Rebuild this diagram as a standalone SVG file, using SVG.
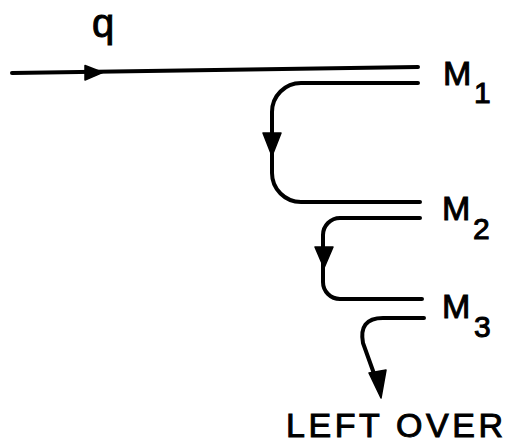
<svg xmlns="http://www.w3.org/2000/svg" width="508" height="446" viewBox="0 0 508 446">
  <style>
    .flow { fill: none; stroke: #000; stroke-width: 4; stroke-linecap: round; stroke-linejoin: round; }
    .head { fill: #000; stroke: #000; stroke-width: 1.5; stroke-linejoin: round; }
    .lbl { font-family: "Liberation Sans", Arial, sans-serif; fill: #000; stroke: #000; stroke-width: 1; }
    .m { font-size: 34px; }
    .sub { font-size: 30px; }
  </style>
  <rect width="508" height="446" fill="#fff"/>

  <!-- flow lines and their arrowheads -->
  <g id="connectors">
    <!-- incoming feed -->
    <path class="flow" d="M12,73 L418,67"/>
    <polygon class="head" points="103,72.4 85,65.5 85,80"/>
    <!-- M1 to M2 -->
    <path class="flow" d="M418,83 H301 A29,29 0 0 0 272,112 V173 A29,29 0 0 0 301,202 H420"/>
    <polygon class="head" points="272,156 263,133 281,133"/>
    <!-- M2 to M3 -->
    <path class="flow" d="M420,218 H340 A17,17 0 0 0 323,235 V282 A17,17 0 0 0 340,299 H422"/>
    <polygon class="head" points="324,268 315,247 333,247"/>
    <!-- M3 to remainder -->
    <path class="flow" d="M424,318 H383 C366,318 360,327 363,343 L377,382"/>
    <polygon class="head" points="381,398 369,373 386,370"/>
  </g>

  <g id="feed-label">
    <text class="lbl" x="92" y="37" font-size="40">q</text>
  </g>

  <g id="node-m1">
    <text class="lbl m" x="443" y="85">M</text>
    <text class="lbl sub" x="474" y="103">1</text>
  </g>

  <g id="node-m2">
    <text class="lbl m" x="442" y="220">M</text>
    <text class="lbl sub" x="473" y="239">2</text>
  </g>

  <g id="node-m3">
    <text class="lbl m" x="442" y="318">M</text>
    <text class="lbl sub" x="474" y="337">3</text>
  </g>

  <g id="node-leftover">
    <text class="lbl" x="286" y="437" font-size="34" textLength="217" lengthAdjust="spacing">LEFT OVER</text>
  </g>
</svg>
